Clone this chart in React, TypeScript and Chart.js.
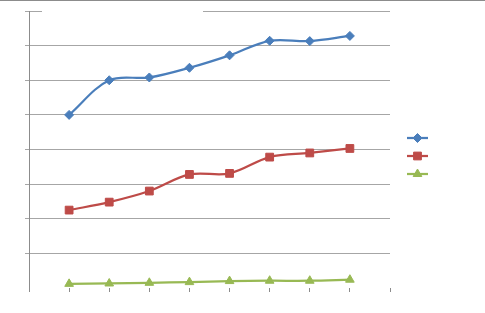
import React, { useEffect, useRef } from "react";
import { Chart, registerables } from "chart.js";
import { drawPoint } from "chart.js/helpers";

Chart.register(...registerables);

// Categories are placed at positions 1..8 on a 0..9 axis
const categoryPositions = [1, 2, 3, 4, 5, 6, 7, 8];
const seriesA = [5.0, 6.0, 6.08, 6.36, 6.72, 7.14, 7.13, 7.28];
const seriesB = [2.25, 2.48, 2.8, 3.28, 3.31, 3.78, 3.9, 4.03];
const seriesC = [0.12, 0.13, 0.15, 0.17, 0.2, 0.21, 0.21, 0.24];
const seriesNames = ["", "", ""];

const COLORS = ["#4A7EBB", "#BE4B48", "#98B954"];

const frameAndLegend = {
  id: "frameAndLegend",
  afterDraw(chart: any) {
    const { ctx, chartArea, width } = chart;
    ctx.save();
    // outer frame top edge
    ctx.strokeStyle = "#8c8c8c";
    ctx.lineWidth = 1;
    ctx.beginPath();
    ctx.moveTo(0, 0.5);
    ctx.lineTo(width, 0.5);
    ctx.stroke();
    // empty title box covering part of the top gridline
    ctx.fillStyle = "#ffffff";
    ctx.fillRect(chartArea.left + 13, chartArea.top - 1.5, 161, 3);
    // legend
    const cy = (chartArea.top + chartArea.bottom) / 2 + 6.5;
    const x0 = chartArea.right + 17;
    chart.data.datasets.forEach((ds: any, i: number) => {
      const y = cy + (i - 1) * 18;
      ctx.strokeStyle = ds.borderColor;
      ctx.lineWidth = ds.borderWidth;
      ctx.beginPath();
      ctx.moveTo(x0, y);
      ctx.lineTo(x0 + 21, y);
      ctx.stroke();
      ctx.fillStyle = ds.pointBackgroundColor;
      ctx.strokeStyle = ds.pointBorderColor;
      ctx.lineWidth = 1;
      drawPoint(ctx, { pointStyle: ds.pointStyle, rotation: 0, radius: ds.pointRadius, borderWidth: 1 }, x0 + 10.5, y);
    });
    ctx.restore();
  },
};

export default function App() {
  const ref = useRef<HTMLCanvasElement>(null);
  useEffect(() => {
    const mk = (vals: number[]) => vals.map((v, i) => ({ x: categoryPositions[i], y: v }));
    const styles = ["rectRot", "rect", "triangle"];
    const radii = [4.5, 5.5, 5];
    const chart = new Chart(ref.current!, {
      type: "line",
      data: {
        datasets: [seriesA, seriesB, seriesC].map((vals, i) => ({
          label: seriesNames[i],
          data: mk(vals),
          borderColor: COLORS[i],
          backgroundColor: COLORS[i],
          pointBackgroundColor: COLORS[i],
          pointBorderColor: COLORS[i],
          pointStyle: styles[i] as any,
          pointRadius: radii[i],
          pointBorderWidth: 1,
          borderWidth: 2.25,
          tension: 0.35,
          fill: false,
        })),
      },
      options: {
        animation: false,
        responsive: false,
        layout: { padding: { left: 25, top: 11, right: 95, bottom: 21 } },
        plugins: { legend: { display: false }, tooltip: { enabled: false }, title: { display: false } },
        scales: {
          x: {
            type: "linear",
            min: 0,
            max: 9,
            ticks: { display: false, stepSize: 1 },
            grid: { drawOnChartArea: false, color: "#8c8c8c", tickLength: 4 },
            border: { display: false },
          },
          y: {
            min: 0,
            max: 8,
            ticks: { display: false, stepSize: 1 },
            grid: {
              color: (c: any) => (c.tick && c.tick.value === 0 ? "rgba(0,0,0,0)" : "#a6a6a6"),
              tickLength: 4,
            },
            border: { display: true, color: "#8c8c8c", width: 1 },
          },
        },
      },
      plugins: [frameAndLegend],
    });
    return () => chart.destroy();
  }, []);
  return (
    <div style={{ position: "fixed", left: 0, top: 0, width: 485, height: 313, background: "#fff" }}>
      <canvas ref={ref} width={485} height={313} style={{ display: "block", width: 485, height: 313 }} />
    </div>
  );
}
